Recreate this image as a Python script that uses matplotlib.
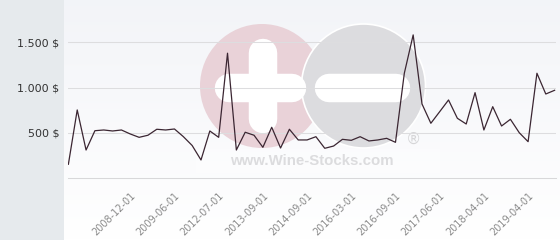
import numpy as np
import matplotlib
matplotlib.use('Agg')
import matplotlib.pyplot as plt
from matplotlib.patches import Circle, Rectangle
from matplotlib.ticker import FuncFormatter

# price per point (category axis, one value per listing date)
prices = [155, 754, 312, 525, 533, 522, 533, 489, 452, 475,
          541, 533, 544, 460, 362, 202, 522, 452, 1380, 312,
          508, 475, 342, 563, 334, 541, 423, 423, 459, 331,
          356, 430, 419, 459, 412, 423, 441, 397, 1159, 1582,
          820, 607, 735, 864, 662, 599, 945, 533, 790, 577,
          651, 503, 404, 1159, 930, 971]

# only every 5th date is labelled on the axis
tick_pos = [7, 12, 17, 22, 27, 32, 37, 42, 47, 52]
tick_labels = ['2008-12-01', '2009-06-01', '2012-07-01', '2013-09-01', '2014-09-01',
               '2016-03-01', '2016-09-01', '2017-06-01', '2018-04-01', '2019-04-01']

y_ticks = [500, 1000, 1500]

W, H = 560, 240
fig = plt.figure(figsize=(W / 100, H / 100), dpi=100)
fig.patch.set_facecolor('white')

# background layer in pixel coordinates: side panel, gradient, watermark
bg = fig.add_axes([0, 0, 1, 1], zorder=0)
bg.set_xlim(0, W)
bg.set_ylim(H, 0)
bg.axis('off')

bg.add_patch(Rectangle((0, 0), 63.5, H, color='#e6eaed', lw=0))
grad = np.linspace(0, 1, 100).reshape(-1, 1)
top = np.array([0.952, 0.957, 0.973])
bot = np.array([1.0, 1.0, 1.0])
img = top[None, None, :] * (1 - grad[:, :, None]) + bot[None, None, :] * grad[:, :, None]
bg.imshow(img, extent=[63.5, W, H, 0], aspect='auto', zorder=1)

# watermark
bg.add_patch(Circle((262, 86), 62, color='#e9d2d8', lw=0, zorder=2))
bg.add_patch(Circle((363.5, 86), 62, facecolor='#dcdcdf', edgecolor='white', lw=1.2, zorder=3))
bar_w = 20.5
bg.plot([262.5, 262.5], [53, 119], color='white', lw=bar_w, solid_capstyle='round', zorder=4)
bg.plot([229, 292], [87.5, 87.5], color='white', lw=bar_w, solid_capstyle='round', zorder=4)
bg.plot([329, 396], [87.5, 87.5], color='white', lw=bar_w, solid_capstyle='round', zorder=4)
bg.add_patch(Rectangle((196, 149), 244, 24, color='white', alpha=0.4, lw=0, zorder=4))
bg.text(312, 161, 'www.Wine-Stocks.com', color='#dcdcde', fontsize=10.8,
        family='Liberation Sans', fontweight='bold', ha='center', va='center', zorder=5)
bg.text(413, 139, '\u00ae', color='#d6d6d8', fontsize=11, ha='center', va='center', zorder=5)

# main chart
ax = fig.add_axes([67.5 / W, 1 - 178.3 / H, 488 / W, 178.3 / H], zorder=1)
ax.set_facecolor('none')
x = np.arange(len(prices))
ax.plot(x, prices, color='#3b2632', lw=0.9, zorder=3)

ax.set_xlim(-0.1, len(prices) - 0.9)
ax.set_ylim(0, 1967)

ax.set_yticks(y_ticks)
ax.yaxis.set_major_formatter(FuncFormatter(lambda v, p: f'{int(v):,} $'.replace(',', '.')))
ax.grid(axis='y', color='#dddddf', lw=0.75)
ax.set_axisbelow(True)
ax.tick_params(axis='y', length=0, pad=6, labelsize=8, labelcolor='#333333')

ax.set_xticks(tick_pos)
ax.set_xticklabels(tick_labels, rotation=45, ha='right', rotation_mode='anchor')
ax.tick_params(axis='x', length=0, pad=9, labelsize=7, labelcolor='#8a8a8a')

for s in ['top', 'right', 'left']:
    ax.spines[s].set_visible(False)
ax.spines['bottom'].set_color('#d8d8da')
ax.spines['bottom'].set_linewidth(0.75)

fig.savefig('out.png', dpi=100)
